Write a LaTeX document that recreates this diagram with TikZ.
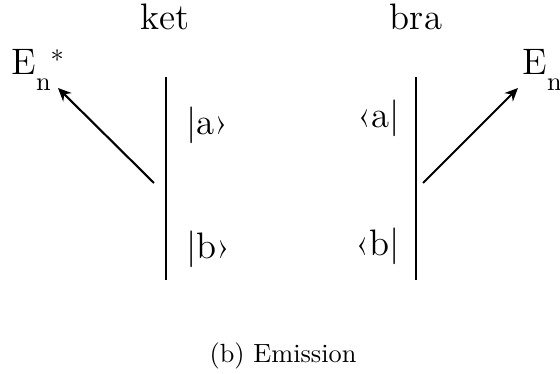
\documentclass[tikz,border=0pt]{standalone}
\usepackage{tikz}
\usetikzlibrary{arrows.meta,positioning}
\newcommand{\subn}{\raisebox{-6pt}{\fontsize{10}{12}\selectfont n}}
\newcommand{\supstar}{\raisebox{1.9pt}{\fontsize{10}{12}\selectfont *}}

\begin{document}
\begin{tikzpicture}[x=0.38pt,y=-0.38pt,
    lbl/.style={inner sep=0pt,font=\fontsize{14}{16}\selectfont},
    wire/.style={line width=1.1pt},
    ray/.style={line width=0.8pt,-{Stealth[length=5pt,width=4.5pt]}}]
  \useasboundingbox (0,0) rectangle (560,374);

  % ket side
  \node[lbl,anchor=base] (ket) at (165,30) {ket};
  \coordinate (kettop) at (166,77);
  \coordinate (ketbot) at (166,280);
  \draw[wire] (kettop) -- (ketbot);
  \node[lbl,anchor=base west] (keta) at (186,135) {|a›};
  \node[lbl,anchor=base west] (ketb) at (186,259) {|b›};
  \node[lbl,anchor=base west] (Estar) at (11,75) {E\subn\supstar};
  \coordinate (ketfoot) at (154,183);
  \coordinate (kettip) at (58,88);
  \draw[ray] (ketfoot) -- (kettip);

  % bra side
  \node[lbl,anchor=base] (bra) at (416,30) {bra};
  \coordinate (bratop) at (416,77);
  \coordinate (brabot) at (416,280);
  \draw[wire] (bratop) -- (brabot);
  \node[lbl,anchor=base east] (braa) at (400,128) {‹a|};
  \node[lbl,anchor=base east] (brab) at (400,256) {‹b|};
  \node[lbl,anchor=base west] (E) at (522,75) {E\subn};
  \coordinate (brafoot) at (423,183);
  \coordinate (bratip) at (518,88);
  \draw[ray] (brafoot) -- (bratip);

  % caption
  \node[anchor=base] (cap) at (283,363) {(b) Emission};
\end{tikzpicture}
\end{document}
